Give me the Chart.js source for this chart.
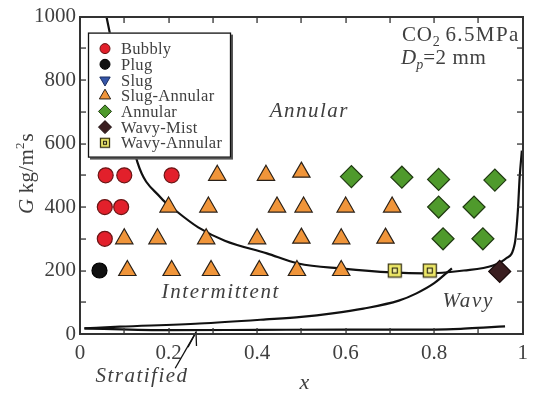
<!DOCTYPE html>
<html><head><meta charset="utf-8">
<script src="https://cdn.jsdelivr.net/npm/chart.js@4"></script>
<style>html,body{margin:0;padding:0;background:#fff}canvas{display:block}</style>
</head><body>
<canvas id="c" width="535" height="394"></canvas>
<script>
// ---- tick labels ----
const xTickLabels = ['0', '0.2', '0.4', '0.6', '0.8', '1'];
const yTickLabels = ['0', '200', '400', '600', '800', '1000'];

// ---- flow-pattern data (x = vapour quality, G in kg/m2s) ----
const bubblyX = [0.058, 0.1, 0.207, 0.056, 0.093, 0.056];
const bubblyG = [500, 500, 500, 400, 400, 300];
const plugX = [0.044];
const plugG = [200];
const slugX = [];
const slugG = [];
const slugAnnularX = [0.107, 0.207, 0.296, 0.405, 0.49, 0.59,
                      0.1, 0.175, 0.285, 0.4, 0.5, 0.59, 0.69,
                      0.2, 0.29, 0.445, 0.505, 0.6, 0.705,
                      0.31, 0.42, 0.5];
const slugAnnularG = [200, 200, 200, 200, 200, 200,
                      300, 300, 300, 300, 302, 300, 302,
                      400, 400, 400, 400, 400, 400,
                      500, 500, 510];
const annularX = [0.613, 0.727, 0.81, 0.937, 0.81, 0.89, 0.82, 0.91];
const annularG = [496, 494, 487, 485, 400, 400, 300, 300];
const wavyMistX = [0.948];
const wavyMistG = [197];
const wavyAnnularX = [0.711, 0.79];
const wavyAnnularG = [200, 200];

// ---- transition boundaries ----
const annularBoundX = [0.06, 0.13, 0.182, 0.216, 0.267, 0.327, 0.422, 0.493, 0.593, 0.704, 0.778, 0.867, 0.933, 0.962, 0.982, 0.989, 0.993, 0.998];
const annularBoundG = [998, 540, 430, 389, 336, 294, 254, 222, 206, 194, 191, 200, 216, 238, 285, 389, 493, 578];
const wavyBoundX = [0.01, 0.09, 0.27, 0.42, 0.5, 0.57, 0.64, 0.72, 0.76, 0.8, 0.84];
const wavyBoundG = [18, 23, 33, 46, 54, 65, 80, 105, 128, 160, 207];
const stratBoundX = [0.01, 0.2, 0.4, 0.6, 0.8, 0.86, 0.92, 0.96];
const stratBoundG = [18, 12, 13, 14, 14, 16, 21, 24];

const zip = (xs, ys) => xs.map((x, i) => ({x: x, y: ys[i]}));

function squareIcon(side, innerSide) {
  const c = document.createElement('canvas');
  c.width = side + 2; c.height = side + 2;
  const g = c.getContext('2d');
  g.fillStyle = '#F1EC6A'; g.strokeStyle = '#3a3516'; g.lineWidth = 1.3;
  g.fillRect(1, 1, side, side); g.strokeRect(1.5, 1.5, side - 1, side - 1);
  const o = (side + 2 - innerSide) / 2;
  g.fillStyle = '#F7F3A0'; g.fillRect(o, o, innerSide, innerSide);
  g.lineWidth = 1.2; g.strokeStyle = '#2e2a10';
  g.strokeRect(o + 0.5, o + 0.5, innerSide - 1, innerSide - 1);
  return c;
}
const squareBig = squareIcon(14, 6);
const squareSmall = squareIcon(10, 4);

const markerSets = [
  {label: 'Bubbly', data: zip(bubblyX, bubblyG), pointStyle: 'circle', pointRadius: 7.5, backgroundColor: '#E2202B', borderColor: '#6a1515', legendRadius: 5, legendRot: 0},
  {label: 'Plug', data: zip(plugX, plugG), pointStyle: 'circle', pointRadius: 7.5, backgroundColor: '#111111', borderColor: '#000000', legendRadius: 5, legendRot: 0},
  {label: 'Slug', data: zip(slugX, slugG), pointStyle: 'triangle', rotation: 180, pointRadius: 9, backgroundColor: '#3556A8', borderColor: '#1c2e60', legendRadius: 6, legendRot: 180},
  {label: 'Slug-Annular', data: zip(slugAnnularX, slugAnnularG), pointStyle: 'triangle', pointRadius: 10, backgroundColor: '#F0953A', borderColor: '#2a2118', legendRadius: 6.5, legendRot: 0},
  {label: 'Annular', data: zip(annularX, annularG), pointStyle: 'rectRot', pointRadius: 11, backgroundColor: '#4F9A2C', borderColor: '#203a12', legendRadius: 6.5, legendRot: 0},
  {label: 'Wavy-Mist', data: zip(wavyMistX, wavyMistG), pointStyle: 'rectRot', pointRadius: 11, backgroundColor: '#3A1E20', borderColor: '#1a0c0c', legendRadius: 6.5, legendRot: 0},
  {label: 'Wavy-Annular', data: zip(wavyAnnularX, wavyAnnularG), pointStyle: squareBig, pointRadius: 8, backgroundColor: '#F1EC6A', borderColor: '#3a3516', legendIcon: squareSmall}
].map(d => Object.assign({type: 'scatter', showLine: false, pointBorderWidth: 1.2, borderWidth: 1.2, pointHoverRadius: d.pointRadius}, d));

const boundarySets = [
  {label: 'b1', data: zip(annularBoundX, annularBoundG)},
  {label: 'b2', data: zip(wavyBoundX, wavyBoundG)},
  {label: 'b3', data: zip(stratBoundX, stratBoundG)}
].map(d => Object.assign({type: 'scatter', showLine: true, isBoundary: true, pointRadius: 0, borderColor: '#111', borderWidth: 2.2, cubicInterpolationMode: 'monotone', fill: false}, d));

const SERIF = '"Liberation Serif", "Times New Roman", serif';
const GRAY = '#3f3f3f';

function txt(ctx, s, x, y, font, align, spacing) {
  ctx.save();
  ctx.font = font; ctx.fillStyle = GRAY; ctx.textAlign = align || 'left'; ctx.textBaseline = 'alphabetic';
  ctx.letterSpacing = (spacing || 0) + 'px';
  ctx.fillText(s, x, y);
  const w = ctx.measureText(s).width;
  ctx.restore();
  return w;
}

function drawFrame(chart) {
  const ctx = chart.ctx, xs = chart.scales.x, ys = chart.scales.y, a = chart.chartArea;
  const L = Math.round(a.left), R = Math.round(a.right), T = Math.round(a.top), B = Math.round(a.bottom);
  ctx.save();
  ctx.fillStyle = '#333333';
  const lw = 2;
  ctx.fillRect(L - 1, T - 1, R - L + 2, lw);      // top
  ctx.fillRect(L - 1, B - 1, R - L + 2, lw);      // bottom
  ctx.fillRect(L - 1, T - 1, lw, B - T + 2);      // left
  ctx.fillRect(R - 1, T - 1, lw, B - T + 2);      // right
  for (let i = 0; i <= 10; i++) {
    const x = Math.round(xs.getPixelForValue(i / 10));
    ctx.fillRect(x - 0.6, B - 6, 1.3, 6);
    ctx.fillRect(x - 0.6, T, 1.3, 6);
    const y = Math.round(ys.getPixelForValue(i * 100));
    ctx.fillRect(L, y - 0.6, 6, 1.3);
    ctx.fillRect(R - 6, y - 0.6, 6, 1.3);
  }
  ctx.restore();
}

const decorPlugin = {
  id: 'decor',
  afterDatasetsDraw(chart) {
    const ctx = chart.ctx, xs = chart.scales.x, ys = chart.scales.y, a = chart.chartArea;
    const px = v => xs.getPixelForValue(v), py = v => ys.getPixelForValue(v);
    // region labels
    const it = 'italic 21px ' + SERIF;
    txt(ctx, 'Annular', px(0.518), py(685), it, 'center', 1.5);
    txt(ctx, 'Intermittent', px(0.318), py(112), it, 'center', 1.6);
    txt(ctx, 'Wavy', px(0.877), py(85), it, 'center', 1.7);
    txt(ctx, 'Stratified', px(0.14), py(-150), it, 'center', 1.5);
    // arrow to stratified line
    ctx.save();
    ctx.strokeStyle = '#111'; ctx.lineWidth = 1.3;
    const x0 = px(0.215), y0 = py(-108), x1 = px(0.262), y1 = py(6);
    ctx.beginPath(); ctx.moveTo(x0, y0); ctx.lineTo(x1, y1); ctx.stroke();
    ctx.beginPath(); ctx.moveTo(x1 - 8, y1 + 15); ctx.lineTo(x1, y1); ctx.lineTo(x1 + 0.5, y1 + 14); ctx.stroke();
    ctx.restore();
    // condition text
    let w = txt(ctx, 'CO', a.left + 322, a.top + 24, '21px ' + SERIF, 'left', 0.8);
    let w2 = txt(ctx, '2', a.left + 322 + w, a.top + 29, '14px ' + SERIF, 'left');
    txt(ctx, ' 6.5MPa', a.left + 322 + w + w2 - 1, a.top + 24, '21px ' + SERIF, 'left', 1.4);
    w = txt(ctx, 'D', a.left + 321, a.top + 47, 'italic 21px ' + SERIF, 'left');
    w2 = txt(ctx, 'p', a.left + 321 + w, a.top + 52, 'italic 14px ' + SERIF, 'left');
    txt(ctx, '=2 mm', a.left + 321 + w + w2, a.top + 47, '21px ' + SERIF, 'left', 0.6);

    // legend box
    const lx = a.left + 8, ly = a.top + 16, lw = 143, lh = 125;
    ctx.save();
    ctx.fillStyle = '#555'; ctx.fillRect(lx + 2, ly + 2, lw, lh);
    ctx.fillStyle = '#fff'; ctx.fillRect(lx, ly, lw, lh);
    ctx.strokeStyle = '#111'; ctx.lineWidth = 1.3; ctx.strokeRect(lx + 0.5, ly + 0.5, lw - 1, lh - 1);
    ctx.restore();
    const items = chart.data.datasets.filter(d => !d.isBoundary);
    items.forEach((d, i) => {
      const cy = ly + 16 + i * 15.7, cx = lx + 17;
      ctx.save();
      if (d.legendIcon) {
        ctx.drawImage(d.legendIcon, cx - d.legendIcon.width / 2, cy - d.legendIcon.height / 2);
      } else {
        ctx.fillStyle = d.backgroundColor; ctx.strokeStyle = d.borderColor; ctx.lineWidth = 1;
        Chart.helpers.drawPoint(ctx, {pointStyle: d.pointStyle, radius: d.legendRadius, rotation: d.legendRot, borderWidth: 1}, cx, cy);
      }
      ctx.restore();
      txt(ctx, d.label, lx + 33, cy + 5.5, '16.5px ' + SERIF, 'left', 0.3);
    });

    // axis titles
    txt(ctx, 'x', (a.left + a.right) / 2 + 3, 389, 'italic 22px ' + SERIF, 'center');
    ctx.save();
    ctx.translate(33, 214); ctx.rotate(-Math.PI / 2);
    let t = txt(ctx, 'G', 0, 0, 'italic 21px ' + SERIF, 'left');
    t += txt(ctx, ' kg/m', t, 0, '21px ' + SERIF, 'left', 0.3);
    t += txt(ctx, '2', t, -9, '13px ' + SERIF, 'left');
    txt(ctx, 's', t + 1, 0, '21px ' + SERIF, 'left');
    ctx.restore();
  },
  afterDraw(chart) {
    drawFrame(chart);
  }
};

new Chart(document.getElementById('c'), {
  type: 'scatter',
  data: {datasets: markerSets.concat(boundarySets)},
  options: {
    responsive: false, animation: false, devicePixelRatio: 1,
    layout: {padding: {top: 16, right: 5, left: 0, bottom: 0}},
    plugins: {legend: {display: false}, tooltip: {enabled: false}},
    scales: {
      x: {
        type: 'linear', min: 0, max: 1,
        grid: {display: false, drawTicks: false}, border: {display: false},
        ticks: {stepSize: 0.2, padding: 7, color: GRAY, font: {family: SERIF, size: 21},
                callback: (v) => xTickLabels[Math.round(v * 5)]},
        afterFit: s => { s.height = 60; }
      },
      y: {
        type: 'linear', min: 0, max: 1000,
        grid: {display: false, drawTicks: false}, border: {display: false},
        ticks: {stepSize: 200, padding: 4, color: GRAY, font: {family: SERIF, size: 21},
                callback: (v) => yTickLabels[Math.round(v / 200)]},
        afterFit: s => { s.width = 80; }
      }
    }
  },
  plugins: [decorPlugin]
});
</script>
</body></html>
